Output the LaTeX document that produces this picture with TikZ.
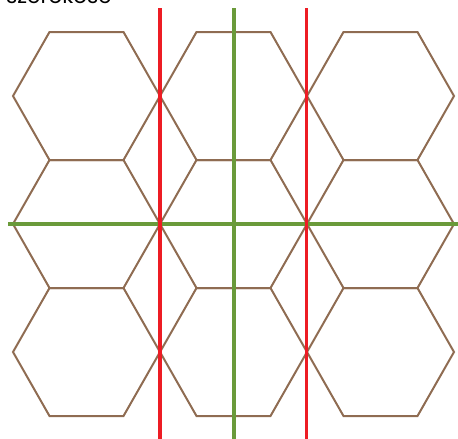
\documentclass[tikz,border=0pt]{standalone}
\usepackage{fontspec}
\newfontfamily\labelfont{Poppins}
\definecolor{hexbrown}{RGB}{143,108,82}
\definecolor{axred}{RGB}{237,28,36}
\definecolor{axgreen}{RGB}{106,154,58}
\begin{document}
\begin{tikzpicture}[x=1pt,y=-1pt,
  hexline/.style={draw=hexbrown,line width=2pt,line join=miter},
  redaxis/.style={draw=axred,line width=3.8pt},
  greenaxis/.style={draw=axgreen,line width=3.3pt}]
\useasboundingbox (0,0) rectangle (458,439);
\clip (0,0) rectangle (458,439);
\node[anchor=base west,inner sep=0pt,font=\labelfont\fontsize{21.5}{21.5}\selectfont] (title) at (6,4) {szerokość};
\foreach \cx in {86.5,233.5,380.5}{
  \foreach \cy in {96,224,352}{
    \draw[hexline] (\cx-73.5,\cy) -- (\cx-37,\cy-64) -- (\cx+37,\cy-64) -- (\cx+73.5,\cy) -- (\cx+37,\cy+64) -- (\cx-37,\cy+64) -- cycle;
  }
}
\coordinate (gt) at (234,8);
\coordinate (gb) at (234,439);
\coordinate (gl) at (8,224);
\coordinate (gr) at (458,224);
\coordinate (r1t) at (160,8);
\coordinate (r1b) at (160,439);
\coordinate (r2t) at (306.5,8);
\coordinate (r2b) at (306.5,439);
\draw[greenaxis] (gl) -- (gr);
\draw[greenaxis] (gt) -- (gb);
\draw[redaxis] (r1t) -- (r1b);
\draw[redaxis] (r2t) -- (r2b);
\end{tikzpicture}
\end{document}
